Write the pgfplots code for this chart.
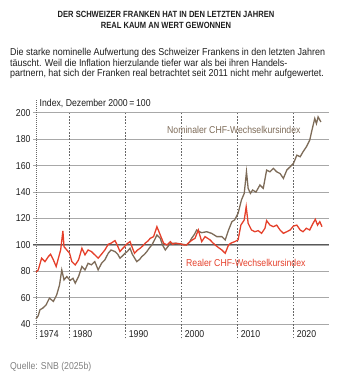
\documentclass[border=0pt]{standalone}
\usepackage{pgfplots}
\pgfplotsset{compat=1.18}
\usepackage{fontspec}
\setmainfont{Liberation Sans}[FakeStretch=0.87]
\newfontfamily\bodyfont{Liberation Sans}[FakeStretch=0.895]
\newfontfamily\titlefont{Liberation Sans}[FakeStretch=0.84]
\definecolor{nomc}{HTML}{7D6B58}
\definecolor{realc}{HTML}{E5402B}
\definecolor{txt}{HTML}{1E1E1E}
\definecolor{gridc}{HTML}{A8A8A8}
\begin{document}
\begin{tikzpicture}
\useasboundingbox (0pt,0pt) rectangle (339pt,381pt);
% title
\node[anchor=base, font=\titlefont\bfseries\fontsize{9}{10}\selectfont, text=txt] at (166pt,363.8pt) {DER SCHWEIZER FRANKEN HAT IN DEN LETZTEN JAHREN};
\node[anchor=base, font=\titlefont\bfseries\fontsize{9}{10}\selectfont, text=txt] at (166pt,352.8pt) {REAL KAUM AN WERT GEWONNEN};
% body
\node[anchor=base west, inner sep=0, font=\bodyfont\fontsize{10}{12}\selectfont, text=txt] at (10pt,325.8pt) {Die starke nominelle Aufwertung des Schweizer Frankens in den letzten Jahren};
\node[anchor=base west, inner sep=0, font=\bodyfont\fontsize{10}{12}\selectfont, text=txt] at (10pt,314.8pt) {täuscht. Weil die Inflation hierzulande tiefer war als bei ihren Handels-};
\node[anchor=base west, inner sep=0, font=\bodyfont\fontsize{10}{12}\selectfont, text=txt] at (10pt,304.8pt) {partnern, hat sich der Franken real betrachtet seit 2011 nicht mehr aufgewertet.};
% index label
\node[anchor=base west, inner sep=0, font=\fontsize{10}{12}\selectfont, text=txt] at (39.5pt,274pt) {Index, Dezember 2000\,=\,100};
% source
\node[anchor=base west, inner sep=0, font=\fontsize{10}{12}\selectfont, text=gray] at (10pt,11.4pt) {Quelle: SNB (2025b)};
\begin{axis}[
  at={(33pt,56.7pt)}, anchor=south west,
  scale only axis, width=296.3pt, height=211.6pt,
  xmin=1973.46, xmax=2026.4, ymin=40, ymax=200,
  axis line style={draw=none}, tick style={draw=none},
  xtick=\empty, ytick={40,60,...,200},
  ymajorgrids, grid style={gridc, line width=0.7pt},
  yticklabel style={font=\fontsize{10}{12}\selectfont, text=txt, xshift=1pt},
  /pgf/number format/assume math mode=true,
  clip=false,
]
\draw[gray!70!black, line width=1.1pt] (axis cs:1973.46,100) -- (axis cs:2026.4,100);
\draw[gray!80!black, line width=0.6pt, dash pattern=on 0.8pt off 1.2pt] (axis cs:1974,29.4) -- (axis cs:1974,209.6);
\foreach \yr in {1980,1990,2000,2010,2020}{
  \edef\tmp{\noexpand\draw[gray!80!black, line width=0.6pt, dash pattern=on 1.6pt off 1.6pt] (axis cs:\yr,29.4) -- (axis cs:\yr,200);}\tmp
}
\foreach \yr in {1974,1980,1990,2000,2010,2020}{
  \edef\tmp{\noexpand\node[anchor=base west, inner sep=0, font=\noexpand\fontsize{10}{12}\noexpand\selectfont, text=txt] at (axis cs:\yr.55,30.1) {\yr};}\tmp
}
\addplot[nomc, line width=1.3pt] coordinates {
(1974.0,44.1)(1974.4,46.5)(1974.7,51)(1975.2,52.2)(1975.8,54.7)(1976.4,59.8)(1977.1,57.3)(1977.7,62.3)(1978.2,69.8)(1978.6,81.1)(1979.0,73.6)(1979.5,76.1)(1980.1,73.2)(1980.6,74.8)(1981.0,71.1)(1981.6,76.1)(1982.2,83.7)(1982.75,81.1)(1983.3,86.1)(1983.9,85)(1984.5,87.4)(1985.1,81.1)(1985.7,86.1)(1986.3,88.7)(1986.9,93.7)(1987.4,96.2)(1988.1,95)(1988.6,93)(1989.0,90)(1989.4,91.5)(1989.9,93.7)(1990.3,95)(1990.8,97.5)(1991.2,93)(1992.0,87.4)(1992.5,89)(1992.9,91.2)(1993.4,93)(1993.8,95)(1994.3,98)(1994.7,100)(1995.2,104)(1995.6,107.5)(1996.2,105)(1996.6,100)(1997.1,96.2)(1997.6,99)(1998.0,101.3)(1998.9,101.3)(1999.8,100.8)(2000.9,100)(2001.4,102)(2001.8,105)(2002.3,108)(2002.7,111.3)(2003.2,110)(2003.6,109.3)(2004.5,110)(2005.4,108.7)(2006.3,106.3)(2007.2,106.3)(2007.8,103.8)(2008.4,111.3)(2009.0,117.6)(2009.5,119)(2010.1,123.9)(2010.7,134)(2011.2,139)(2011.6,155.3)(2011.9,142.8)(2012.3,139)(2012.7,141.5)(2013.3,140)(2014.0,145.3)(2014.6,142.8)(2015.2,156.6)(2015.8,155.3)(2016.4,157.9)(2017.0,155.3)(2017.6,154)(2018.2,150.3)(2018.8,156.6)(2019.4,159.1)(2020.0,161.7)(2020.6,167.9)(2021.2,166.7)(2021.7,170.4)(2022.3,174.2)(2022.9,179.2)(2023.3,186.8)(2023.8,195.6)(2024.1,191.8)(2024.4,196.8)(2024.9,193)
};
\addplot[realc, line width=1.3pt] coordinates {
(1974.0,79.4)(1974.4,81.1)(1975.0,90)(1975.6,87.4)(1976.2,91.2)(1976.6,93)(1977.1,88.7)(1977.6,83.7)(1978.0,90)(1978.4,96.2)(1978.8,110.6)(1979.0,98.7)(1979.5,96.2)(1980.0,93.7)(1980.4,87.4)(1981.0,84.9)(1981.6,88.7)(1982.2,97.5)(1982.75,92.5)(1983.3,96.2)(1983.9,95)(1984.5,92.5)(1985.1,90)(1985.7,93)(1986.3,96.2)(1986.9,100.5)(1987.4,101.3)(1988.1,103.3)(1988.5,100)(1989.0,95)(1989.4,97)(1989.8,98.7)(1990.3,101)(1990.8,102.5)(1991.2,98)(1991.6,93.7)(1992.1,96)(1992.6,97.5)(1993.0,99)(1993.5,101.3)(1994.0,103)(1994.4,105)(1995.0,106.3)(1995.3,110)(1995.6,113.8)(1996.2,107.5)(1996.8,101.3)(1997.4,100)(1998.0,102.5)(1998.4,100.5)(1998.9,101.3)(1999.4,101)(1999.8,100.8)(2000.4,100)(2000.9,100)(2001.5,102.5)(2002.0,104)(2002.4,105)(2003.0,111.3)(2003.6,102.5)(2004.2,106.3)(2005.1,103.8)(2005.5,102)(2006.0,100)(2006.6,98)(2007.2,96.2)(2007.8,93.7)(2008.4,100)(2008.8,101.3)(2009.5,102.5)(2010.1,103.8)(2010.6,115)(2011.2,118.9)(2011.55,128.9)(2011.9,116.4)(2012.5,111.3)(2013.1,110)(2013.7,110.8)(2014.3,108.8)(2014.9,112.6)(2015.2,118.4)(2015.8,115)(2016.4,113.8)(2017.0,115)(2017.6,111.3)(2018.2,108.8)(2018.8,110)(2019.4,111.3)(2020.0,114.3)(2020.6,115)(2021.2,111.3)(2021.7,110)(2022.3,112.6)(2022.9,111.3)(2023.5,116.4)(2023.9,119.4)(2024.3,115)(2024.7,117.6)(2025.1,113.8)
};
\end{axis}
% series labels
\node[anchor=base west, inner sep=0, font=\fontsize{10}{12}\selectfont, text=nomc] at (167pt,247.4pt) {Nominaler CHF-Wechselkursindex};
\node[anchor=base west, inner sep=0, font=\fontsize{10}{12}\selectfont, text=realc] at (186pt,114pt) {Realer CHF-Wechselkursindex};
\end{tikzpicture}
\end{document}
